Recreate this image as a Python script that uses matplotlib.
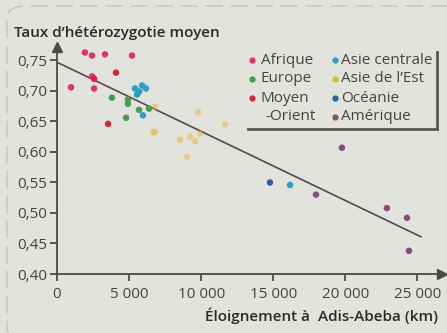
import matplotlib
matplotlib.use("Agg")
import matplotlib.pyplot as plt
from matplotlib.patches import FancyBboxPatch
import numpy as np

# Distance from Addis Ababa (km) and mean heterozygosity, by region
afrique_x = [1940, 2430, 3330, 5200, 970, 2570, 2430]
afrique_y = [0.763, 0.758, 0.760, 0.758, 0.706, 0.704, 0.724]

moyen_orient_x = [4090, 2570, 3540]
moyen_orient_y = [0.730, 0.720, 0.646]

europe_x = [3810, 4920, 4920, 4790, 5690, 6380]
europe_y = [0.689, 0.686, 0.679, 0.656, 0.669, 0.671]

asie_centrale_x = [5960, 5410, 5900, 6170, 5550, 5700, 16160]
asie_centrale_y = [0.660, 0.704, 0.709, 0.704, 0.694, 0.699, 0.546]

asie_est_x = [8530, 9220, 9920, 9570, 9780, 6800, 6800, 11650, 9010, 6660]
asie_est_y = [0.620, 0.625, 0.630, 0.618, 0.665, 0.674, 0.633, 0.645, 0.592, 0.632]

oceanie_x = [14770]
oceanie_y = [0.550]

amerique_x = [17960, 22880, 24270, 24410, 19760]
amerique_y = [0.530, 0.508, 0.492, 0.438, 0.607]

# Regression line
trend_x = [0, 25240]
trend_intercept = 0.747
trend_slope = -1.133e-5

x_ticks = [0, 5000, 10000, 15000, 20000, 25000]
x_ticklabels = ["0", "5 000", "10 000", "15 000", "20 000", "25 000"]
y_ticks = [0.40, 0.45, 0.50, 0.55, 0.60, 0.65, 0.70, 0.75]
y_ticklabels = ["0,40", "0,45", "0,50", "0,55", "0,60", "0,65", "0,70", "0,75"]

series = [
    ("Afrique", afrique_x, afrique_y, "#e0336e"),
    ("Europe", europe_x, europe_y, "#4c9a50"),
    ("Moyen\n-Orient", moyen_orient_x, moyen_orient_y, "#d8243a"),
    ("Asie centrale", asie_centrale_x, asie_centrale_y, "#2a9ec4"),
    ("Asie de l\u2019Est", asie_est_x, asie_est_y, "#e3b43c"),
    ("Oc\u00e9anie", oceanie_x, oceanie_y, "#2f5fa8"),
    ("Am\u00e9rique", amerique_x, amerique_y, "#8a4a7c"),
]

BG = "#e3e3dd"
INK = "#444444"
FONT = ["Open Sans", "DejaVu Sans"]
plt.rcParams["font.family"] = FONT

W, H = 447, 333
fig = plt.figure(figsize=(W / 100, H / 100), dpi=100, facecolor=BG)

def fx(px):
    return px / W

def fy(py):
    return 1 - py / H

ax = fig.add_axes([fx(57), fy(274), fx(442) - fx(57), fy(47) - fy(274)])
ax.set_facecolor(BG)
ax.set_xlim(0, 26700)
ax.set_ylim(0.40, 0.772)

for name, xs, ys, col in series:
    alpha = 0.5 if name.startswith("Asie de") else 1.0
    ax.scatter(xs, ys, s=22, color=col, alpha=alpha, edgecolors="none", zorder=3)

tx = np.array(trend_x, dtype=float)
ax.plot(tx, trend_intercept + trend_slope * tx, color="#5a4650", lw=1.2, zorder=2)

# Axes with arrow heads
for side in ("top", "right"):
    ax.spines[side].set_visible(False)
for side in ("left", "bottom"):
    ax.spines[side].set_color("#4a4a4a")
    ax.spines[side].set_linewidth(1.3)
ax.plot(0, 1, marker="^", color="#4a4a4a", ms=7, transform=ax.transAxes, clip_on=False)
ax.plot(1, 0, marker=">", color="#4a4a4a", ms=7, transform=ax.transAxes, clip_on=False)

ax.set_xticks(x_ticks)
ax.set_xticklabels(x_ticklabels)
ax.set_yticks(y_ticks)
ax.set_yticklabels(y_ticklabels)
ax.tick_params(axis="both", direction="out", length=5, width=1.3, color="#4a4a4a",
               labelsize=11, labelcolor=INK, pad=2)
ax.tick_params(axis="x", pad=4)

# Title and axis label
fig.text(fx(14), fy(33), "Taux d\u2019h\u00e9t\u00e9rozygotie moyen", fontsize=11,
         fontweight="semibold", color="#2a2a2a", va="center", ha="left")
fig.text(fx(438), fy(316), "\u00c9loignement \u00e0  Adis-Abeba (km)", fontsize=11,
         fontweight="semibold", color="#2a2a2a", va="center", ha="right")

# Legend box with shadow on right and bottom
lg_left, lg_right, lg_top, lg_bot = 244, 436, 49, 128
box = FancyBboxPatch((fx(lg_left), fy(lg_bot)), fx(lg_right) - fx(lg_left),
                     fy(lg_top) - fy(lg_bot), boxstyle="square,pad=0",
                     transform=fig.transFigure, facecolor=BG, edgecolor="none", zorder=4)
fig.patches.append(box)
fig.lines.append(plt.Line2D([fx(lg_left + 4), fx(lg_right + 1)], [fy(lg_bot + 1)] * 2,
                            transform=fig.transFigure, color="#555555", lw=2.0, zorder=5))
fig.lines.append(plt.Line2D([fx(lg_right + 1)] * 2, [fy(lg_top + 3), fy(lg_bot + 1)],
                            transform=fig.transFigure, color="#555555", lw=2.0, zorder=5))

rows = [60, 79, 98, 117]
layout = [(252, 261, 0), (252, 261, 1), (252, 261, 2), (335, 341, 0), (335, 341, 1),
          (335, 341, 2), (335, 341, 3)]
for (name, _, _, col), (mx, tx0, r) in zip(series, layout):
    fig.lines.append(plt.Line2D([fx(mx)], [fy(rows[r])], transform=fig.transFigure,
                                marker="o", ms=4.5, color=col, mec="none", zorder=6))
    lines = name.split("\n")
    fig.text(fx(tx0), fy(rows[r]), lines[0], fontsize=11, color=INK, va="center",
             ha="left", zorder=6)
    if len(lines) > 1:
        fig.text(fx(tx0 + 4), fy(rows[r + 1]), lines[1], fontsize=11, color=INK,
                 va="center", ha="left", zorder=6)

# Faint page frame
frame = FancyBboxPatch((fx(7), fy(340)), fx(470), fy(6) - fy(340),
                       boxstyle="round,pad=0,rounding_size=0.04", transform=fig.transFigure,
                       facecolor="none", edgecolor="#c2c2bc", lw=0.9, ls=(0, (14, 6)),
                       zorder=0)
fig.patches.append(frame)

fig.savefig("out.png", dpi=100, facecolor=BG)
